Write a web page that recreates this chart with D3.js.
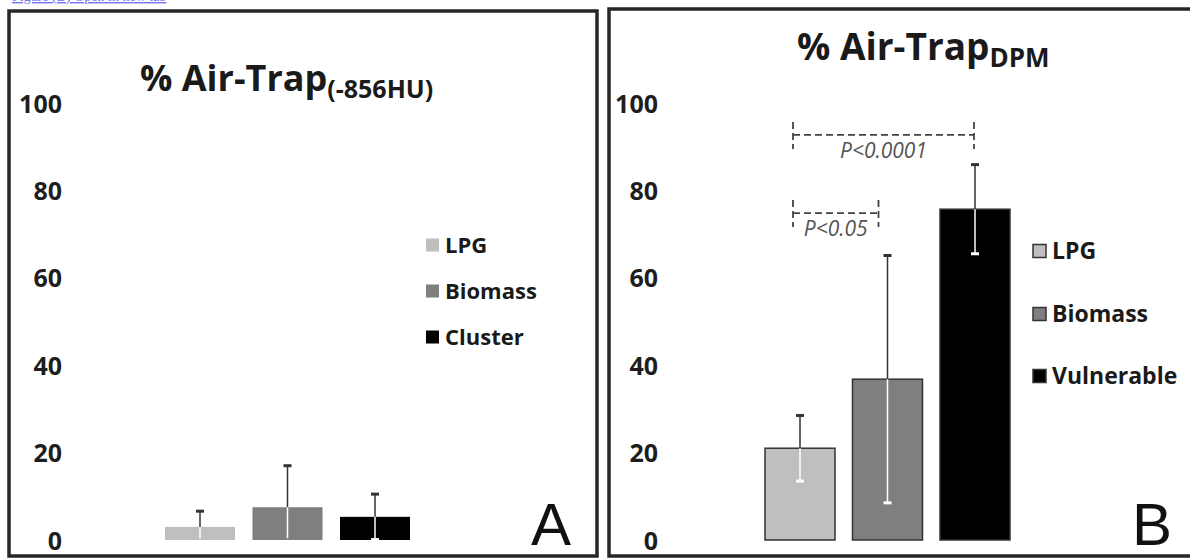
<!DOCTYPE html>
<html>
<head>
<meta charset="utf-8">
<script src="https://cdn.jsdelivr.net/npm/d3@7"></script>
<style>
  body { margin: 0; background: #fff; }
  svg { display: block; font-family: "Open Sans", sans-serif; }
</style>
</head>
<body>
<script>
// panel A: % Air-Trap(-856HU)
const groupsA = ['LPG', 'Biomass', 'Cluster'],
      meansA = [3.0, 7.5, 5.3],
      errorsA = [3.6, 9.5, 5.2];

// panel B: % Air-Trap DPM
const groupsB = ['LPG', 'Biomass', 'Vulnerable'],
      meansB = [21.0, 36.8, 75.7],
      errorsB = [7.5, 28.3, 10.2];

const yTicks = [0, 20, 40, 60, 80, 100];

const colors = ['#bfbfbf', '#7f7f7f', '#000000'];

const width = 1190,
      height = 559;

const svg = d3.select('body').append('svg')
              .attr('width', width)
              .attr('height', height);

// link text cut off by the top edge, as in the source image
svg.append('text')
   .attr('x', 12)
   .attr('y', 1)
   .attr('fill', '#7474f2')
   .attr('text-decoration', 'underline')
   .style('font-family', 'Liberation Serif, serif')
   .style('font-size', '14px')
   .text('Figure (B) Open in new tab');

const yScale = d3.scaleLinear().domain([0, 100]).range([540, 103]);

function panel(opts) {
  const g = svg.append('g');

  g.append('rect')
   .attr('x', opts.box[0])
   .attr('y', opts.box[1])
   .attr('width', opts.box[2])
   .attr('height', opts.box[3])
   .attr('fill', '#fff')
   .attr('stroke', '#262626')
   .attr('stroke-width', 3.5);

  const xScale = d3.scaleBand()
                   .domain(opts.groups)
                   .range(opts.xRange)
                   .paddingInner(0.2)
                   .paddingOuter(0.1);

  const yAxis = d3.axisLeft(yScale).tickValues(yTicks).tickSize(0).tickPadding(0);
  const ax = g.append('g')
              .attr('transform', 'translate(' + opts.axisX + ',0)')
              .call(yAxis);
  ax.select('.domain').remove();
  ax.selectAll('text')
    .attr('fill', '#1e1e1e')
    .style('font-family', '"Open Sans", sans-serif')
    .style('font-weight', 'bold')
    .style('font-size', '25px')
    .attr('dy', '0.36em');

  const rows = opts.groups.map((d, i) => ({ name: d, mean: opts.means[i], err: opts.errors[i], color: colors[i] }));

  g.selectAll('rect.bar')
   .data(rows)
   .enter()
   .append('rect')
   .attr('class', 'bar')
   .attr('x', d => xScale(d.name))
   .attr('y', d => yScale(d.mean))
   .attr('width', xScale.bandwidth())
   .attr('height', d => yScale(0) - yScale(d.mean))
   .attr('fill', d => d.color)
   .attr('stroke', opts.outline ? '#333' : 'none')
   .attr('stroke-width', 1.5);

  const cx = d => xScale(d.name) + xScale.bandwidth() / 2;

  // upper whisker (dark)
  g.selectAll('line.up')
   .data(rows)
   .enter()
   .append('line')
   .attr('x1', cx).attr('x2', cx)
   .attr('y1', d => yScale(d.mean))
   .attr('y2', d => yScale(d.mean + d.err))
   .attr('stroke', '#333')
   .attr('stroke-width', 1.5);
  g.selectAll('line.upcap')
   .data(rows)
   .enter()
   .append('line')
   .attr('x1', d => cx(d) - 4).attr('x2', d => cx(d) + 4)
   .attr('y1', d => yScale(d.mean + d.err))
   .attr('y2', d => yScale(d.mean + d.err))
   .attr('stroke', '#333')
   .attr('stroke-width', 3);

  // lower whisker (white, inside bar)
  g.selectAll('line.down')
   .data(rows)
   .enter()
   .append('line')
   .attr('x1', cx).attr('x2', cx)
   .attr('y1', d => yScale(d.mean))
   .attr('y2', d => yScale(Math.max(0.4, d.mean - d.err)))
   .attr('stroke', '#fff')
   .attr('stroke-width', 1.5);
  g.selectAll('line.downcap')
   .data(rows.filter(d => d.mean - d.err > 0))
   .enter()
   .append('line')
   .attr('x1', d => cx(d) - 4).attr('x2', d => cx(d) + 4)
   .attr('y1', d => yScale(d.mean - d.err))
   .attr('y2', d => yScale(d.mean - d.err))
   .attr('stroke', '#fff')
   .attr('stroke-width', 3);

  // title
  const title = g.append('text')
                 .attr('x', opts.title.x)
                 .attr('y', opts.title.y)
                 .attr('fill', '#1a1a1a')
                 .style('font-weight', 'bold')
                 .style('font-size', opts.title.size + 'px');
  title.append('tspan').text('% Air-Trap');
  title.append('tspan')
       .attr('dy', opts.title.sub * 0.28)
       .style('font-size', opts.title.sub + 'px')
       .text(opts.title.subText);

  // legend
  const leg = g.selectAll('g.leg')
               .data(rows)
               .enter()
               .append('g')
               .attr('transform', (d, i) => 'translate(' + opts.legend.x + ',' + opts.legend.ys[i] + ')');
  leg.append('rect')
     .attr('x', 0).attr('y', -6.5)
     .attr('width', 13).attr('height', 13)
     .attr('fill', d => d.color)
     .attr('stroke', opts.outline ? '#333' : 'none')
     .attr('stroke-width', 1.5);
  leg.append('text')
     .attr('x', 19)
     .attr('dy', '0.36em')
     .attr('fill', '#1a1a1a')
     .style('font-weight', 'bold')
     .style('font-size', opts.legend.size + 'px')
     .text(d => d.name);

  // panel letter
  g.append('text')
   .attr('x', opts.letter.x)
   .attr('y', 545)
   .attr('fill', '#111')
   .style('font-family', 'Liberation Sans, Arial, sans-serif')
   .style('font-size', '60px')
   .text(opts.letter.text);

  return xScale;
}

panel({
  box: [9, 11, 588, 545],
  groups: groupsA, means: meansA, errors: errorsA,
  xRange: [156.25, 418.75],
  axisX: 62,
  outline: false,
  title: { x: 140, y: 91, size: 36, sub: 25, subText: '(-856HU)' },
  legend: { x: 426, ys: [245, 291, 337], size: 22 },
  letter: { x: 531, text: 'A' }
});

const xB = panel({
  box: [609, 9, 590, 547],
  groups: groupsB, means: meansB, errors: errorsB,
  xRange: [756.25, 1018.75],
  axisX: 658,
  outline: true,
  title: { x: 797, y: 60, size: 37, sub: 26, subText: 'DPM' },
  legend: { x: 1033, ys: [251, 314, 376], size: 23 },
  letter: { x: 1132, text: 'B' }
});

// significance brackets
const brackets = [
  { from: 'LPG', to: 'Vulnerable', level: 92.7, label: 'P<0.0001', dl: -7, dr: -1 },
  { from: 'LPG', to: 'Biomass', level: 74.8, label: 'P<0.05', dl: -7, dr: -9 }
];

const half = xB.bandwidth() / 2;
brackets.forEach(b => {
  const x1 = xB(b.from) + half + b.dl,
        x2 = xB(b.to) + half + b.dr,
        y = yScale(b.level);
  const path = 'M' + x1 + ',' + (y - 13) + 'V' + (y + 14) +
               'M' + x1 + ',' + y + 'H' + x2 +
               'M' + x2 + ',' + (y - 13) + 'V' + (y + 14);
  svg.append('path')
     .attr('d', path)
     .attr('fill', 'none')
     .attr('stroke', '#444')
     .attr('stroke-width', 1.8)
     .attr('stroke-dasharray', '7,4');
  svg.append('text')
     .attr('x', (x1 + x2) / 2)
     .attr('y', y + 23)
     .attr('text-anchor', 'middle')
     .attr('fill', '#555')
     .style('font-style', 'italic')
     .style('font-size', '21px')
     .text(b.label);
});
</script>
</body>
</html>
